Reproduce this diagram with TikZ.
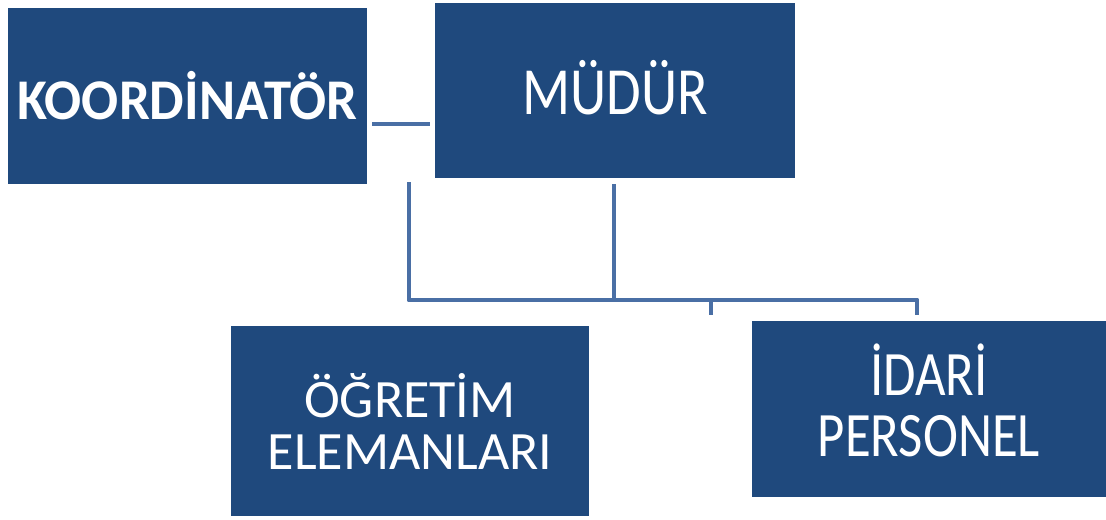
\documentclass[tikz,border=0pt]{standalone}
\usepackage{fontspec}
\setmainfont{Carlito}
\definecolor{boxblue}{HTML}{1F497D}
\definecolor{lineblue}{HTML}{4A6FA5}
\newcommand{\tall}[2]{\scalebox{1}[#1]{#2}}
\begin{document}
\begin{tikzpicture}[x=0.025cm, y=-0.025cm,
  box/.style={fill=boxblue, text=white, inner sep=0pt, align=center},
  link/.style={draw=lineblue, line width=3.5pt, line join=round}]
  \useasboundingbox (0,0) rectangle (1106,520);

  % boxes
  \node[box, minimum width=8.975cm, minimum height=4.4cm,
        font=\bfseries\fontsize{39}{47}\selectfont] (koord) at (187.5,96)
        {\tall{1.05}{KOORDİNATÖR}};
  \node[box, minimum width=9cm, minimum height=4.375cm,
        font=\fontsize{40}{48}\selectfont] (mudur) at (615,90.5)
        {\raisebox{4pt}{\tall{1.2}{MÜDÜR}}};
  \node[box, minimum width=8.95cm, minimum height=4.75cm,
        font=\fontsize{38.4}{37}\selectfont] (ogretim) at (410,421)
        {ÖĞRETİM\\ELEMANLARI};
  \node[box, minimum width=8.85cm, minimum height=4.4cm,
        font=\fontsize{37.5}{36}\selectfont] (idari) at (929,409)
        {\tall{1.2}{\begin{tabular}{@{}c@{}}İDARİ\\PERSONEL\end{tabular}}};

  % line ends
  \coordinate (kr) at (372,124);
  \coordinate (ml) at (430,124);
  \coordinate (lefttop) at (409,182);
  \coordinate (midtop) at (614,184);
  \coordinate (barleft) at (409,300);
  \coordinate (barright) at (917,300);
  \coordinate (tick) at (711,315);
  \coordinate (rightend) at (917,315);

  % connectors
  \draw[link] (kr) -- (ml);
  \draw[link] (lefttop) -- (barleft) -- (barright) -- (rightend);
  \draw[link] (midtop) -- (midtop |- barleft);
  \draw[link] (tick |- barleft) -- (tick);
\end{tikzpicture}
\end{document}
